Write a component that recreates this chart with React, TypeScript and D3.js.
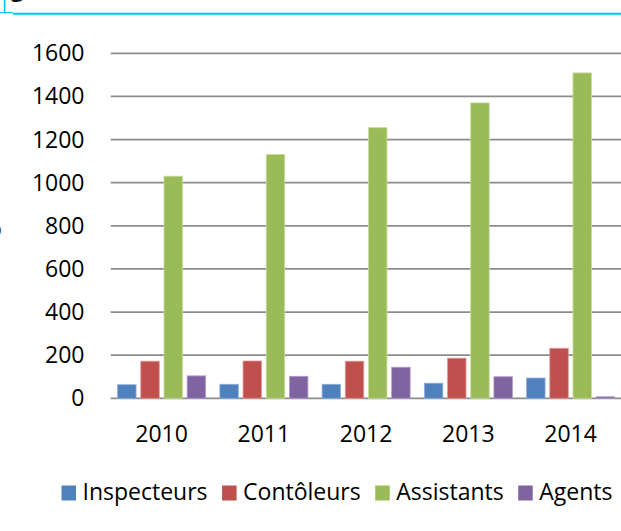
import React, { useEffect, useRef } from "react";
import * as d3 from "d3";

const years = ["2010", "2011", "2012", "2013", "2014"];
const seriesNames = ["Inspecteurs", "Contôleurs", "Assistants", "Agents"];
const inspecteurs = [63, 65, 65, 70, 94];
const controleurs = [172, 173, 172, 186, 232];
const assistants = [1030, 1131, 1255, 1370, 1509];
const agents = [104, 102, 144, 100, 7];
const yTicks = [0, 200, 400, 600, 800, 1000, 1200, 1400, 1600];
const colors = ["#4F81BD", "#C0504D", "#9BBB59", "#8064A2"];
const strokeColors = ["#8fb0da", "#e09a98", "#c6dc9c", "#b09ccb"];

const W = 621;
const H = 531;
const FONT = "'Open Sans', 'Noto Sans', sans-serif";

export default function App() {
  const ref = useRef<SVGSVGElement | null>(null);

  useEffect(() => {
    const svg = d3.select(ref.current);
    svg.selectAll("*").remove();

    const seriesValues = [inspecteurs, controleurs, assistants, agents];

    const y = d3.scaleLinear().domain([0, 1600]).range([398.3, 53.3]);
    const x0 = d3.scaleBand<string>().domain(years).range([110.5, 621.75]).padding(0);
    const groupPad = 7.1;
    const x1 = d3
      .scaleBand<string>()
      .domain(seriesNames)
      .range([groupPad, x0.bandwidth() - groupPad])
      .paddingInner(0.203)
      .paddingOuter(0);

    // header fragments (cropped)
    svg.append("line").attr("x1", 4.6).attr("x2", 4.6).attr("y1", 0).attr("y2", 13.5)
      .attr("stroke", "#00C6F0").attr("stroke-width", 1.6);
    svg.append("line").attr("x1", 0).attr("x2", 13).attr("y1", 12.6).attr("y2", 12.6)
      .attr("stroke", "#00C6F0").attr("stroke-width", 1.2);
    svg.append("line").attr("x1", 13).attr("x2", W).attr("y1", 13.8).attr("y2", 13.8)
      .attr("stroke", "#00C6F0").attr("stroke-width", 2);
    svg.append("text").attr("x", 11).attr("y", -3).text("g")
      .attr("font-family", FONT).attr("font-weight", 700).attr("font-size", 22).attr("fill", "#111");
    svg.append("text").attr("x", 32).attr("y", -1.5).text("rade")
      .attr("font-family", FONT).attr("font-size", 20).attr("fill", "#bbb");
    svg.append("text").attr("x", -10).attr("y", 236).text("o")
      .attr("font-family", FONT).attr("font-size", 20).attr("fill", "#555");

    // gridlines
    svg.append("g").selectAll("line").data(yTicks).join("line")
      .attr("x1", 110.7).attr("x2", W)
      .attr("y1", (d) => y(d)).attr("y2", (d) => y(d))
      .attr("stroke", "#8c8c8c").attr("stroke-width", 1.8);

    // y labels
    svg.append("g").selectAll("text").data(yTicks).join("text")
      .attr("x", 84.5).attr("y", (d) => y(d)).attr("dy", "0.35em")
      .attr("text-anchor", "end")
      .attr("font-family", FONT).attr("font-size", 23).attr("fill", "#000")
      .text((d) => String(d));

    // bars
    const groups = svg.append("g").selectAll("g").data(years).join("g")
      .attr("transform", (d) => `translate(${x0(d)},0)`);
    groups.selectAll("rect")
      .data((yr) => seriesNames.map((s, k) => ({ s, k, v: seriesValues[k][years.indexOf(yr)] })))
      .join("rect")
      .attr("x", (d) => x1(d.s) as number)
      .attr("width", x1.bandwidth())
      .attr("y", (d) => y(d.v))
      .attr("height", (d) => y(0) - y(d.v))
      .attr("fill", (d) => colors[d.k])
      .attr("stroke", (d) => strokeColors[d.k])
      .attr("stroke-width", 0.8);

    // x labels
    svg.append("g").selectAll("text").data(years).join("text")
      .attr("x", (d) => (x0(d) as number) + x0.bandwidth() / 2)
      .attr("y", 441.5)
      .attr("text-anchor", "middle")
      .attr("font-family", FONT).attr("font-size", 23).attr("fill", "#000")
      .text((d) => d);

    // legend
    const legend = svg.append("g");
    let cx = 61.5;
    seriesNames.forEach((name, k) => {
      legend.append("rect").attr("x", cx).attr("y", 485.5).attr("width", 14.5).attr("height", 15)
        .attr("fill", colors[k]);
      const t = legend.append("text").attr("x", cx + 21).attr("y", 500)
        .attr("font-family", FONT).attr("font-size", 23).attr("fill", "#000").text(name);
      const w = (t.node() as SVGTextElement).getComputedTextLength();
      cx = cx + 21 + w + 14.5;
    });
  }, []);

  return (
    <svg
      ref={ref}
      width={W}
      height={H}
      style={{ position: "absolute", left: 0, top: 0, background: "#fff" }}
    />
  );
}
